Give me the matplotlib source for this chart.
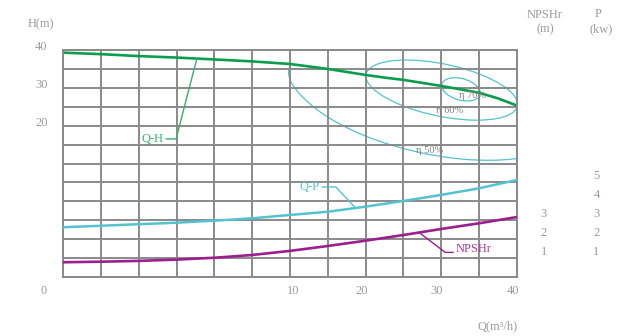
import matplotlib
matplotlib.use('Agg')
import matplotlib.pyplot as plt
import numpy as np
from matplotlib.patches import Ellipse, Arc
from matplotlib.transforms import ScaledTranslation

plt.rcParams['font.family'] = ['Liberation Serif', 'DejaVu Serif']

# ---- data ----
q = [0, 1.7, 3.3, 5, 6.7, 8.3, 10, 15, 20, 25, 30, 35, 40]
q_h = [0, 1.7, 3.3, 5, 6.7, 8.3, 10, 15, 17.5, 20, 22.5, 25, 27.5, 30, 32.5, 35, 37.5, 40]
head = [39.3, 38.9, 38.4, 38.0, 37.5, 37.0, 36.3, 35.0, 34.2, 33.4, 32.7, 32.1,
        31.3, 30.5, 29.6, 28.7, 27.2, 25.3]
power = [2.63, 2.71, 2.79, 2.87, 2.98, 3.10, 3.28, 3.45, 3.72, 4.02, 4.34, 4.69, 5.13]
npshr = [0.78, 0.81, 0.85, 0.92, 1.02, 1.16, 1.38, 1.64, 1.92, 2.22, 2.54, 2.84, 3.17]

# efficiency contours (centre Q, centre H, width, height, angle)
eff_labels = ['η 50%', 'η 60%', 'η 70%']
eff_q = [28.7, 30.05, 32.6]
eff_h = [27.9, 29.4, 29.6]
eff_w = [42.5, 22.2, 6.6]
eff_hgt = [27.5, 12.7, 4.5]
eff_angle = [-38.5, -31.7, -60.6]

q_ticks = [0, 10, 20, 30, 40]
h_ticks = [20, 30, 40]
npshr_ticks = [1, 2, 3]
p_ticks = [1, 2, 3, 4, 5]

# colours
grid_c = '#8a8a8a'
text_c = '#9a9a9a'
green = '#0a9e4c'
cyan = '#52c3cf'
purple = '#9b1f8e'


# Q axis: first 6 grid columns hold 0-10, the last 6 hold 10-40
def fwd(x):
    x = np.asarray(x, dtype=float)
    return np.where(x <= 10, x * 0.6, 6 + (x - 10) * 0.2)


def inv(c):
    c = np.asarray(c, dtype=float)
    return np.where(c <= 6, c / 0.6, 10 + (c - 6) * 5)


fig = plt.figure(figsize=(6.43, 3.36), dpi=100)
ax = fig.add_axes([63 / 643, 59 / 336, 454 / 643, 227 / 336])
ax.set_xscale('function', functions=(fwd, inv))
ax.set_xlim(0, 40)
ax.set_ylim(-20, 40)

ax.xaxis.remove_overlapping_locs = False
ax.yaxis.remove_overlapping_locs = False
ax.set_xticks(inv(np.arange(13)), minor=True)
ax.set_yticks(np.arange(-20, 41, 5), minor=True)
ax.grid(which='minor', color=grid_c, lw=1.4)
ax.set_xticks(q_ticks)
ax.set_yticks(h_ticks)
ax.tick_params(which='both', length=0, labelsize=9, labelcolor=text_c)
ax.tick_params(axis='y', pad=11)
ax.tick_params(axis='x', pad=6)
for s in ax.spines.values():
    s.set_color(grid_c)
    s.set_linewidth(1.4)

ax_n = ax.twinx()
ax_p = ax.twinx()
for a, ticks, pad in [(ax_n, npshr_ticks, 17), (ax_p, p_ticks, 55)]:
    a.set_ylim(0, 12)
    a.set_yticks(ticks)
    a.tick_params(length=0, pad=pad, labelsize=9, labelcolor=text_c)
    for s in a.spines.values():
        s.set_visible(False)

# curves
ax.plot(q_h, head, color=green, lw=1.9)
ax_p.plot(q, power, color=cyan, lw=1.8)
ax_n.plot(q, npshr, color=purple, lw=1.9)

# efficiency contours
ax.add_patch(Arc((eff_q[0], eff_h[0]), eff_w[0], eff_hgt[0], angle=eff_angle[0],
                 theta1=195, theta2=350, color=cyan, lw=0.9))
for i in (1, 2):
    ax.add_patch(Ellipse((eff_q[i], eff_h[i]), eff_w[i], eff_hgt[i], angle=eff_angle[i],
                         fill=False, ec=cyan, lw=0.9))
eff_text_pos = [(26.6, 13.4), (29.3, 23.9), (32.4, 28.1)]
for lab, (tx, ty) in zip(eff_labels, eff_text_pos):
    ax.text(tx, ty, lab, fontsize=7.5, color='#808080', va='center', ha='left')

# curve labels with leader lines
ax.annotate('Q-H', xy=(5.9, 37.8), xytext=(3.93, 16.5), color='#35b06c', fontsize=9,
            ha='center', va='center',
            arrowprops=dict(arrowstyle='-', color='#35b06c', lw=1, shrinkA=0, shrinkB=0,
                            connectionstyle='angle,angleA=0,angleB=75.5,rad=0'))
ax_p.annotate('Q-P', xy=(18.7, 3.63), xytext=(12.6, 4.76), color=cyan, fontsize=9,
              ha='center', va='center',
              arrowprops=dict(arrowstyle='-', color=cyan, lw=1, shrinkA=0, shrinkB=0,
                              connectionstyle='angle,angleA=0,angleB=-47,rad=0'))
ax_n.annotate('NPSHr', xy=(27.2, 2.31), xytext=(34.3, 1.46), color='#a83a9c', fontsize=9,
              ha='center', va='center',
              arrowprops=dict(arrowstyle='-', color=purple, lw=1, shrinkA=0, shrinkB=0,
                              relpos=(0, 0.25),
                              connectionstyle='angle,angleA=0,angleB=142.8,rad=0'))


def nudge(label, dx, dy):
    label.set_transform(label.get_transform()
                        + ScaledTranslation(dx / 100, dy / 100, fig.dpi_scale_trans))


for lab, dx in zip(ax.get_xticklabels(), [-19, 3, -4, -5, -4]):
    nudge(lab, dx, 0)
for lab in ax.get_yticklabels():
    nudge(lab, 0, 4)
for a in (ax_n, ax_p):
    for lab in a.get_yticklabels():
        nudge(lab, 0, 8)

# axis titles
fig.text(40.5 / 643, 1 - 24 / 336, 'H(m)', ha='center', va='center', fontsize=9, color=text_c)
fig.text(545 / 643, 1 - 15 / 336, 'NPSHr', ha='center', va='center', fontsize=9, color=text_c)
fig.text(545 / 643, 1 - 29 / 336, '(m)', ha='center', va='center', fontsize=9, color=text_c)
fig.text(598 / 643, 1 - 14 / 336, 'P', ha='center', va='center', fontsize=9, color=text_c)
fig.text(601 / 643, 1 - 29 / 336, '(kw)', ha='center', va='center', fontsize=9, color=text_c)
fig.text(497.5 / 643, 1 - 326 / 336, 'Q(m³/h)', ha='center', va='center', fontsize=9, color=text_c)

fig.savefig('out.png', dpi=100)
